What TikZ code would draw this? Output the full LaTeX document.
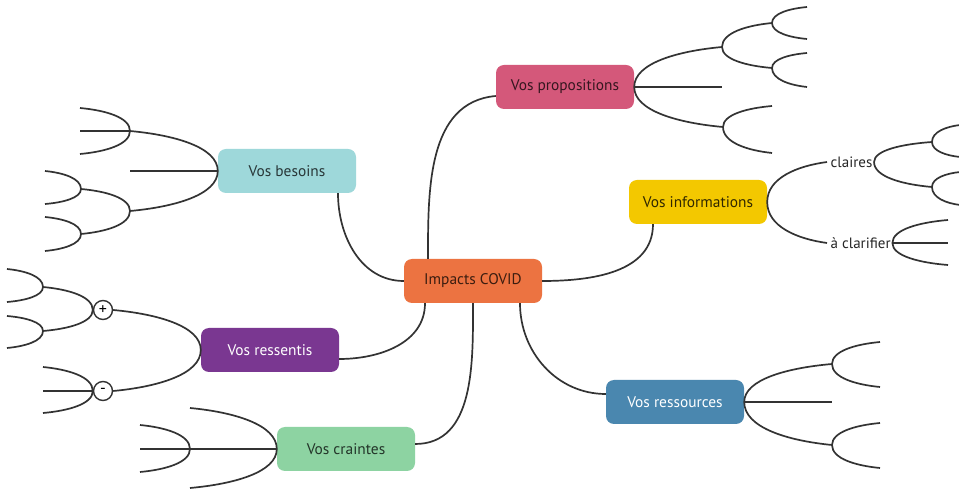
\documentclass[tikz,border=0pt]{standalone}
\usepackage{fontspec}
\setmainfont{PT Sans}
\usetikzlibrary{calc}
\newcommand\myarm[2]{\draw[ln] let \p1=(#1), \p2=(#2) in (\p1) .. controls (\x1,{\y1+0.6*(\y2-\y1)}) and ({\x2+0.5*(\x1-\x2)},{\y2+0.1*(\y1-\y2)}) .. (\p2);}
\begin{document}
\begin{tikzpicture}[x=1pt,y=1pt,
  box/.style={rounded corners=8pt, minimum width=138pt, minimum height=44pt, inner sep=0pt, font=\fontsize{15.4}{17}\selectfont},
  ln/.style={line width=1.7pt, draw=linec},
  sm/.style={font=\fontsize{15}{17}\selectfont, text=black!85, inner sep=1.5pt},
  circ/.style={circle, draw=linec, line width=1.4pt, fill=white, minimum size=19pt, inner sep=0pt, font=\fontsize{16}{16}\selectfont}
]
\definecolor{linec}{HTML}{333333}
\definecolor{cimp}{HTML}{EC7341}
\definecolor{cprop}{HTML}{D4587A}
\definecolor{cbes}{HTML}{9ED8DA}
\definecolor{cinf}{HTML}{F3C800}
\definecolor{cress}{HTML}{7A3791}
\definecolor{ccra}{HTML}{8DD3A2}
\definecolor{crsrc}{HTML}{4A87AF}
\useasboundingbox[fill=white] (0,0) rectangle (959,490);

% main nodes
\node[box, fill=cimp, text=cimp!25!black] (imp) at (473,209) {Impacts COVID};
\node[box, fill=cprop, text=cprop!25!black] (prop) at (565,403) {Vos propositions};
\node[box, fill=cbes, text=cbes!25!black] (bes) at (287,319) {Vos besoins};
\node[box, fill=cinf, text=cinf!20!black] (inf) at (698,288) {Vos informations};
\node[box, fill=cress, text=white] (ress) at (270,140) {Vos ressentis};
\node[box, fill=ccra, text=ccra!25!black] (cra) at (346,41) {Vos craintes};
\node[box, fill=crsrc, text=white] (rsrc) at (675,88) {Vos ressources};

% main connectors
\draw[ln] ([xshift=-45pt]imp.north) to[out=90,in=185] ([yshift=-9pt]prop.west);
\draw[ln] (imp.west) to[out=180,in=-90] ([xshift=51pt]bes.south);
\draw[ln] ([xshift=-48pt]imp.south) to[out=-90,in=0] ([yshift=-9pt]ress.east);
\draw[ln] (imp.south) to[out=-90,in=0] ([yshift=5pt]cra.east);
\draw[ln] (imp.east) to[out=0,in=-90] ([xshift=-45pt]inf.south);
\draw[ln] ([xshift=47pt]imp.south) to[out=-90,in=180] ([yshift=8pt]rsrc.west);

% --- propositions branches
\coordinate (pA) at (722,443);
\coordinate (pB) at (722,403);
\coordinate (pC) at (723,363);
\coordinate (pA1) at (772,467);
\coordinate (pA2) at (772,422);
\coordinate (pA1a) at (807,483);
\coordinate (pA1b) at (807,451);
\coordinate (pA2a) at (807,437);
\coordinate (pA2b) at (807,403);
\coordinate (pC1) at (772,384);
\coordinate (pC2) at (772,337);
\myarm{prop.east}{pA}
\draw[ln] (prop.east) -- (pB);
\myarm{prop.east}{pC}
\myarm{pA}{pA1}
\myarm{pA}{pA2}
\myarm{pA1}{pA1a}
\myarm{pA1}{pA1b}
\myarm{pA2}{pA2a}
\myarm{pA2}{pA2b}
\myarm{pC}{pC1}
\myarm{pC}{pC2}

% --- besoins branches
\coordinate (bA) at (130,359);
\coordinate (bB) at (130,319);
\coordinate (bC) at (130,279);
\coordinate (bA1) at (80,382);
\coordinate (bA2) at (80,359);
\coordinate (bA3) at (80,336);
\coordinate (bC1) at (81,301);
\coordinate (bC2) at (81,256);
\coordinate (bC1a) at (45,319);
\coordinate (bC1b) at (45,286);
\coordinate (bC2a) at (45,273);
\coordinate (bC2b) at (45,239);
\myarm{bes.west}{bA}
\draw[ln] (bes.west) -- (bB);
\myarm{bes.west}{bC}
\myarm{bA}{bA1}
\draw[ln] (bA) -- (bA2);
\myarm{bA}{bA3}
\myarm{bC}{bC1}
\myarm{bC}{bC2}
\myarm{bC1}{bC1a}
\myarm{bC1}{bC1b}
\myarm{bC2}{bC2a}
\myarm{bC2}{bC2b}

% --- ressentis branches
\node[circ] (plus) at (103,180) {+};
\node[circ] (minus) at (103,99) {-};
\myarm{ress.west}{plus.east}
\myarm{ress.west}{minus.east}
\coordinate (rA) at (43,203);
\coordinate (rB) at (43,159);
\coordinate (rA1) at (7,221);
\coordinate (rA2) at (7,188);
\coordinate (rB1) at (7,174);
\coordinate (rB2) at (7,142);
\coordinate (mA) at (43,123);
\coordinate (mB) at (43,99);
\coordinate (mC) at (43,77);
\myarm{plus.west}{rA}
\myarm{plus.west}{rB}
\myarm{rA}{rA1}
\myarm{rA}{rA2}
\myarm{rB}{rB1}
\myarm{rB}{rB2}
\myarm{minus.west}{mA}
\draw[ln] (minus.west) -- (mB);
\myarm{minus.west}{mC}

% --- craintes branches
\coordinate (kA) at (190,82);
\coordinate (kB) at (140,41);
\coordinate (kF) at (190,41);
\coordinate (kC) at (190,2);
\coordinate (kF1) at (140,65);
\coordinate (kF2) at (140,18);
\myarm{cra.west}{kA}
\draw[ln] (cra.west) -- (kB);
\myarm{cra.west}{kC}
\myarm{kF}{kF1}
\myarm{kF}{kF2}

% --- informations branches
\coordinate (iA) at (827,328);
\coordinate (iB) at (827,247);
\node[sm, anchor=west] (claires) at (829,328) {claires};
\node[sm, anchor=west] (clar) at (829,247) {à clarifier};
\myarm{inf.east}{iA}
\myarm{inf.east}{iB}
\coordinate (cA) at (932,348);
\coordinate (cB) at (932,303);
\coordinate (cA1) at (960,365);
\coordinate (cA2) at (960,333);
\coordinate (cB1) at (960,318);
\coordinate (cB2) at (960,285);
\myarm{claires.east}{cA}
\myarm{claires.east}{cB}
\myarm{cA}{cA1}
\myarm{cA}{cA2}
\myarm{cB}{cB1}
\myarm{cB}{cB2}
\coordinate (dA) at (948,270);
\coordinate (dB) at (948,247);
\coordinate (dC) at (948,225);
\myarm{clar.east}{dA}
\draw[ln] (clar.east) -- (dB);
\myarm{clar.east}{dC}

% --- ressources branches
\coordinate (sA) at (832,126);
\coordinate (sB) at (832,88);
\coordinate (sC) at (832,45);
\coordinate (sA1) at (880,148);
\coordinate (sA2) at (880,103);
\coordinate (sC1) at (880,67);
\coordinate (sC2) at (880,22);
\myarm{rsrc.east}{sA}
\draw[ln] (rsrc.east) -- (sB);
\myarm{rsrc.east}{sC}
\myarm{sA}{sA1}
\myarm{sA}{sA2}
\myarm{sC}{sC1}
\myarm{sC}{sC2}
\end{tikzpicture}
\end{document}
